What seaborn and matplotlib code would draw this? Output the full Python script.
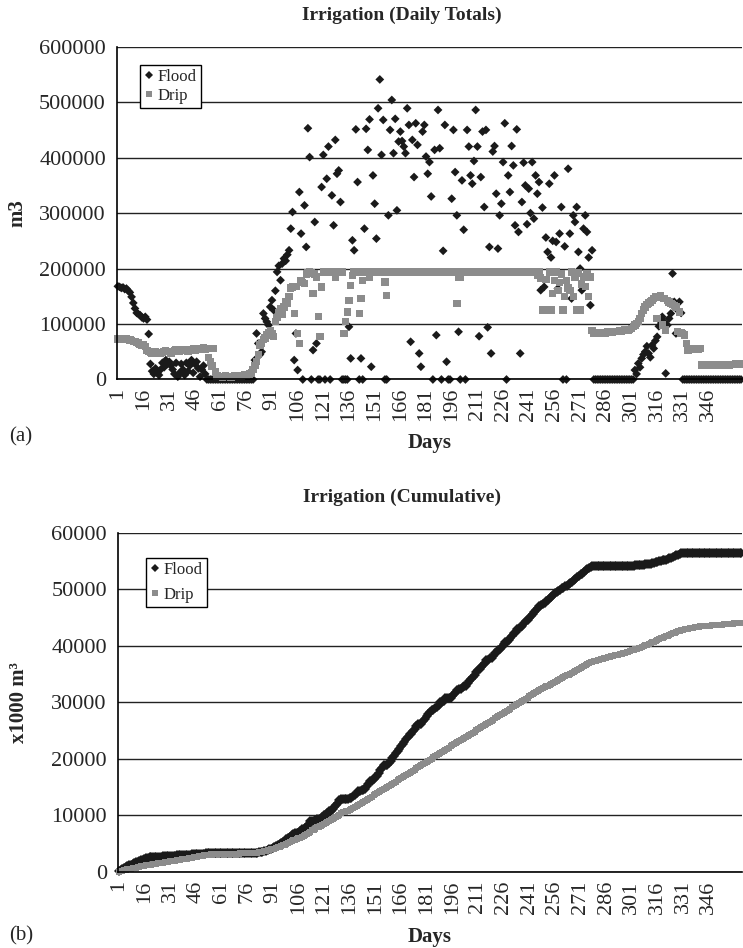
"""Irrigation volumes, flood vs drip: daily totals (a) and cumulative (b)."""

import numpy as np
import pandas as pd
import matplotlib

matplotlib.use("Agg")
import matplotlib.pyplot as plt
from matplotlib.lines import Line2D
import seaborn as sns

# daily irrigation in thousand m3, one value per day (1..365)
FLOOD_K = [
    168, 167, 165, 166, 163, 164, 160, 157, 149, 138,   # 1-10
    128, 120, 118, 116, 112, 110, 113, 108, 82, 28,     # 11-20
    15, 10, 20, 12, 8, 18, 30, 22, 35, 28,              # 21-30
    32, 25, 18, 10, 30, 5, 12, 28, 18, 8,               # 31-40
    30, 15, 25, 35, 12, 28, 32, 20, 5, 18,              # 41-50
    25, 10, 0, 0, 0, 0, 0, 0, 0, 0,                     # 51-60
    0, 0, 0, 0, 0, 0, 0, 0, 0, 0,                       # 61-70
    0, 0, 0, 0, 0, 0, 0, 0, 0, 0,                       # 71-80
    35, 83, 65, 45, 50, 119, 110, 104, 98, 131,         # 81-90
    143, 125, 160, 194, 205, 179, 209, 218, 214, 225,   # 91-100
    233, 272, 302, 35, 83, 17, 338, 263, 0, 314,        # 101-110
    239, 453, 401, 0, 53, 284, 65, 0, 0, 347,           # 111-120
    405, 0, 362, 420, 0, 332, 278, 432, 371, 377,       # 121-130
    320, 0, 0, 0, 0, 95, 38, 251, 233, 451,             # 131-140
    356, 0, 38, 0, 272, 452, 414, 469, 23, 368,         # 141-150
    317, 254, 489, 541, 405, 468, 0, 0, 296, 450,       # 151-160
    504, 408, 470, 305, 429, 447, 430, 420, 408, 489,   # 161-170
    459, 68, 432, 365, 462, 423, 47, 23, 447, 459,      # 171-180
    402, 371, 392, 330, 0, 414, 80, 486, 417, 0,        # 181-190
    232, 459, 32, 0, 0, 326, 450, 374, 296, 86,         # 191-200
    0, 359, 270, 0, 450, 420, 368, 353, 394, 486,       # 201-210
    420, 78, 365, 447, 311, 450, 94, 239, 47, 411,      # 211-220
    421, 335, 236, 296, 317, 392, 462, 0, 368, 338,     # 221-230
    421, 386, 278, 451, 266, 47, 320, 391, 350, 280,    # 231-240
    344, 300, 392, 290, 368, 335, 356, 161, 310, 167,   # 241-250
    256, 230, 353, 220, 250, 368, 248, 164, 263, 311,   # 251-260
    0, 240, 0, 380, 263, 146, 296, 284, 311, 230,       # 261-270
    200, 161, 272, 296, 266, 220, 134, 233, 0, 0,       # 271-280
    0, 0, 0, 0, 0, 0, 0, 0, 0, 0,                       # 281-290
    0, 0, 0, 0, 0, 0, 0, 0, 0, 0,                       # 291-300
    0, 0, 17, 10, 29, 22, 38, 45, 50, 60,               # 301-310
    47, 40, 62, 56, 70, 77, 96, 105, 113, 104,          # 311-320
    11, 98, 110, 119, 191, 140, 83, 125, 140, 120,      # 321-330
    0, 0, 0, 0, 0, 0, 0, 0, 0, 0,                       # 331-340
    0, 0, 0, 0, 0, 0, 0, 0, 0, 0,                       # 341-350
    0, 0, 0, 0, 0, 0, 0, 0, 0, 0,                       # 351-360
    0, 0, 0, 0, 0,                                      # 361-365
]
DRIP_K = [
    73, 74, 74, 73, 72, 73, 72, 71, 70, 68,             # 1-10
    68, 67, 66, 63, 62, 62, 60, 52, 50, 49,             # 11-20
    48, 50, 51, 49, 48, 47, 49, 50, 52, 51,             # 21-30
    50, 48, 50, 52, 53, 51, 50, 52, 54, 53,             # 31-40
    52, 51, 53, 54, 55, 53, 56, 55, 54, 56,             # 41-50
    57, 55, 56, 40, 32, 24, 56, 14, 6, 5,               # 51-60
    5, 4, 5, 6, 5, 5, 4, 5, 6, 5,                       # 61-70
    6, 5, 6, 7, 8, 7, 9, 10, 12, 18,                    # 71-80
    25, 33, 45, 62, 66, 72, 75, 80, 84, 88,             # 81-90
    82, 78, 105, 112, 120, 128, 118, 131, 140, 137,     # 91-100
    150, 165, 167, 119, 168, 83, 65, 179, 175, 173,     # 101-110
    190, 193, 194, 192, 155, 190, 185, 113, 77, 167,    # 111-120
    194, 194, 194, 194, 194, 194, 194, 185, 194, 194,   # 121-130
    194, 194, 83, 104, 122, 143, 170, 188, 194, 194,    # 131-140
    194, 119, 146, 179, 194, 194, 194, 185, 194, 194,   # 141-150
    194, 194, 194, 194, 194, 194, 176, 152, 194, 194,   # 151-160
    194, 194, 194, 194, 194, 194, 194, 194, 194, 194,   # 161-170
    194, 194, 194, 194, 194, 194, 194, 194, 194, 194,   # 171-180
    194, 194, 194, 194, 194, 194, 194, 194, 194, 194,   # 181-190
    194, 194, 194, 194, 194, 194, 194, 194, 137, 185,   # 191-200
    185, 194, 194, 194, 194, 194, 194, 194, 194, 194,   # 201-210
    194, 194, 194, 194, 194, 194, 194, 194, 194, 194,   # 211-220
    194, 194, 194, 194, 194, 194, 194, 194, 194, 194,   # 221-230
    194, 194, 194, 194, 194, 194, 194, 194, 194, 194,   # 231-240
    194, 194, 194, 194, 194, 188, 194, 183, 125, 125,   # 241-250
    180, 125, 194, 125, 155, 178, 194, 160, 175, 190,   # 251-260
    125, 150, 178, 165, 160, 194, 150, 185, 125, 192,   # 261-270
    125, 172, 185, 168, 190, 150, 185, 88, 84, 84,      # 271-280
    83, 84, 85, 84, 85, 84, 86, 85, 86, 85,             # 281-290
    87, 86, 87, 88, 87, 88, 89, 90, 89, 90,             # 291-300
    92, 95, 98, 101, 105, 110, 119, 125, 131, 135,      # 301-310
    138, 140, 143, 146, 149, 110, 149, 152, 98, 146,    # 311-320
    89, 143, 140, 137, 135, 133, 131, 86, 122, 84,      # 321-330
    83, 80, 65, 53, 56, 56, 55, 56, 56, 55,             # 331-340
    56, 26, 25, 26, 25, 26, 26, 25, 26, 26,             # 341-350
    25, 26, 26, 27, 26, 26, 27, 26, 27, 27,             # 351-360
    27, 28, 27, 28, 28,                                 # 361-365
]
DAYS = list(range(1, 366))
TICK_DAYS = [1, 16, 31, 46, 61, 76, 91, 106, 121, 136, 151, 166,
             181, 196, 211, 226, 241, 256, 271, 286, 301, 316, 331, 346]
SERIES = ["Flood", "Drip"]
COLORS = {"Flood": "#1a1a1a", "Drip": "#8c8c8c"}
MARKERS = {"Flood": "D", "Drip": "s"}

assert len(FLOOD_K) == 365 and len(DRIP_K) == 365

daily = pd.DataFrame({
    "day": DAYS + DAYS,
    "m3": [v * 1000 for v in FLOOD_K] + [v * 1000 for v in DRIP_K],
    "series": ["Flood"] * 365 + ["Drip"] * 365,
})
cumulative = pd.DataFrame({
    "day": DAYS + DAYS,
    "k_m3": list(np.cumsum(FLOOD_K)) + list(np.cumsum(DRIP_K)),
    "series": ["Flood"] * 365 + ["Drip"] * 365,
})

sns.set_style("white")
plt.rcParams["font.family"] = ["Liberation Serif", "DejaVu Serif"]

fig = plt.figure(figsize=(7.43, 9.48), dpi=100)
ax_top = fig.add_axes([0.1575, 0.5997, 0.841, 0.351])
ax_bot = fig.add_axes([0.1588, 0.0802, 0.840, 0.3576])

sns.scatterplot(
    data=daily, x="day", y="m3", hue="series", style="series", size="series",
    hue_order=SERIES, style_order=SERIES, size_order=SERIES,
    palette=COLORS, markers=MARKERS, sizes={"Flood": 20, "Drip": 28},
    linewidth=0, legend=False, ax=ax_top,
)
for coll in ax_top.collections:
    coll.set_clip_on(False)

sns.lineplot(
    data=cumulative, x="day", y="k_m3", hue="series", style="series",
    hue_order=SERIES, style_order=SERIES, palette=COLORS, markers=MARKERS,
    dashes=False, markersize=5, markeredgewidth=0, linewidth=3.2,
    legend=False, ax=ax_bot,
)
for line in ax_bot.lines:
    line.set_clip_on(False)


def style_axis(ax, ymax, ystep, ylabel, title, panel, title_y, panel_y, legend_pos, legend_gap):
    ax.set_xlim(0.5, 365.5)
    ax.set_ylim(0, ymax)
    ax.set_yticks(np.arange(0, ymax + 1, ystep))
    ax.set_yticklabels([f"{int(v)}" for v in np.arange(0, ymax + 1, ystep)], fontsize=16)
    ax.set_xticks(TICK_DAYS)
    ax.set_xticklabels([str(d) for d in TICK_DAYS], rotation=90, fontsize=16)
    ax.set_xticks(np.arange(0.5, 366, 1), minor=True)
    ax.tick_params(axis="x", which="major", length=0, pad=6)
    ax.tick_params(axis="x", which="minor", length=5, width=0.8, color="black", direction="out")
    ax.tick_params(axis="y", length=6, width=1.0, color="black", direction="out", pad=2)
    ax.yaxis.grid(True, color="#222222", linewidth=1.0)
    ax.xaxis.grid(False)
    ax.set_axisbelow(True)
    for side in ("top", "right"):
        ax.spines[side].set_visible(False)
    for side in ("left", "bottom"):
        ax.spines[side].set_color("black")
        ax.spines[side].set_linewidth(1.2)
    ax.set_xlabel("Days", fontsize=15, fontweight="bold")
    ax.xaxis.set_label_coords(0.5, -0.162)
    ax.set_ylabel(ylabel, fontsize=15, fontweight="bold")
    ax.yaxis.set_label_coords(-0.143, 0.5)
    handles = [
        Line2D([], [], ls="none", marker=MARKERS[name], color=COLORS[name],
               markersize=4.5 if name == "Flood" else 5, markeredgewidth=0)
        for name in SERIES
    ]
    ax.legend(
        handles, SERIES, loc="upper left", bbox_to_anchor=legend_pos,
        frameon=True, fancybox=False, edgecolor="black", framealpha=1,
        fontsize=12, handlelength=0.6, handletextpad=0.2, borderpad=0.25,
        labelspacing=legend_gap, borderaxespad=0,
    ).get_frame().set_linewidth(1.0)
    fig.text(0.541, title_y, title, ha="center", va="center", fontsize=14, fontweight="bold")
    fig.text(0.012, panel_y, panel, ha="left", va="center", fontsize=15)


style_axis(ax_top, 600000, 100000, "m3", "Irrigation (Daily Totals)", "(a)",
           0.984, 0.539, (0.037, 0.945), 0.15)
style_axis(ax_bot, 60000, 10000, "x1000 m³", "Irrigation (Cumulative)", "(b)",
           0.4757, 0.013, (0.045, 0.926), 0.5)

fig.savefig("out.png", dpi=100)
plt.close(fig)
